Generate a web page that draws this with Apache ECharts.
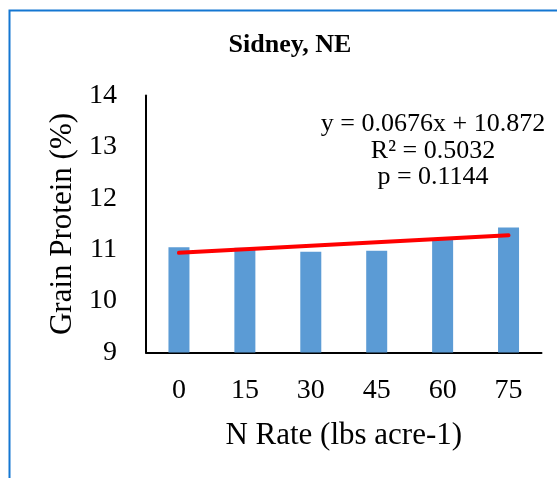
<!DOCTYPE html>
<html>
<head>
<meta charset="utf-8">
<style>html,body{margin:0;padding:0;background:#fff}#c{width:557px;height:478px}</style>
<script src="https://cdn.jsdelivr.net/npm/echarts@6/dist/echarts.min.js"></script>
</head>
<body>
<div id="c"></div>
<script>
var categories = ['0', '15', '30', '45', '60', '75'];
var proteinValues = [11.05, 11.04, 10.96, 10.98, 11.22, 11.43];
var trendValues = [10.94, null, null, null, null, 11.28];
var yTicks = [9, 10, 11, 12, 13, 14];
var titleText = 'Sidney, NE';
var equationLines = ['y = 0.0676x + 10.872', 'R\u00B2 = 0.5032', 'p = 0.1144'];
var xName = 'N Rate (lbs acre-1)';
var yName = 'Grain Protein (%)';

var serif = '"Liberation Serif", "Times New Roman", serif';
var chart = echarts.init(document.getElementById('c'), null, {renderer: 'canvas'});
var graphics = [
  {type: 'rect', shape: {x: 9.5, y: 10.5, width: 620, height: 620}, style: {fill: null, stroke: '#1477d2', lineWidth: 2}, silent: true},
  {type: 'text', x: 290, y: 45, style: {text: titleText, font: 'bold 26px ' + serif, fill: '#000', textAlign: 'center', textVerticalAlign: 'middle'}}
];
var eqY = [124, 151, 177];
equationLines.forEach(function (t, i) {
  graphics.push({type: 'text', x: 433, y: eqY[i], style: {text: t, font: '26px ' + serif, fill: '#000', textAlign: 'center', textVerticalAlign: 'middle'}});
});
chart.setOption({
  backgroundColor: '#fff',
  animation: false,
  graphic: graphics,
  grid: {left: 146, right: 15.5, top: 95.5, bottom: 125.5},
  xAxis: {
    type: 'category',
    data: categories,
    name: xName,
    nameLocation: 'middle',
    nameGap: 68,
    nameTextStyle: {fontFamily: serif, fontSize: 31, color: '#000', lineHeight: 31},
    axisLine: {lineStyle: {color: '#000', width: 2}},
    axisTick: {show: false},
    axisLabel: {fontFamily: serif, fontSize: 28, color: '#000', margin: 24, lineHeight: 28}
  },
  yAxis: {
    type: 'value',
    min: yTicks[0],
    max: yTicks[yTicks.length - 1],
    interval: 1,
    name: yName,
    nameLocation: 'middle',
    nameGap: 68,
    nameTextStyle: {fontFamily: serif, fontSize: 31, color: '#000', lineHeight: 31},
    axisLine: {show: true, lineStyle: {color: '#000', width: 2}},
    axisTick: {show: false},
    splitLine: {show: false},
    axisLabel: {fontFamily: serif, fontSize: 28, color: '#000', margin: 29}
  },
  series: [
    {type: 'bar', data: proteinValues, barWidth: 21, itemStyle: {color: '#5B9BD5'}},
    {type: 'line', data: trendValues, connectNulls: true, symbol: 'none', lineStyle: {color: '#FF0000', width: 4, cap: 'round'}, z: 5}
  ]
});
</script>
</body>
</html>
